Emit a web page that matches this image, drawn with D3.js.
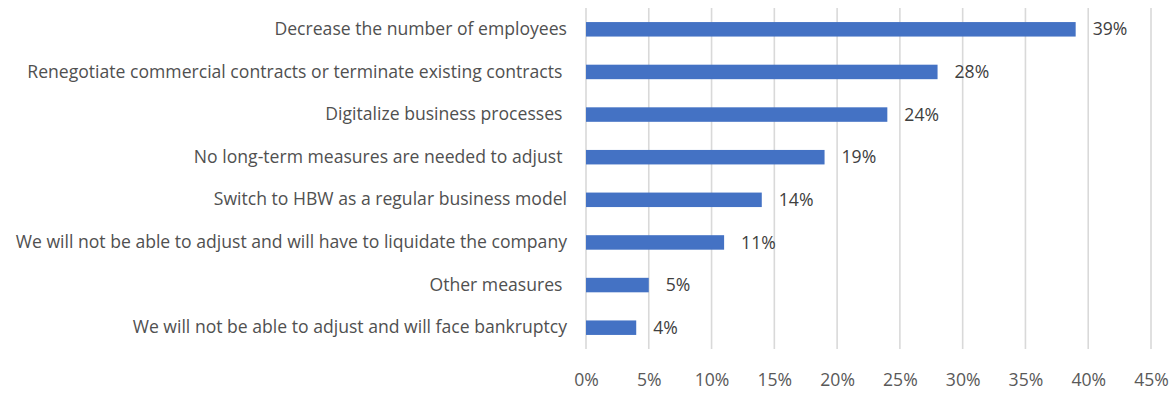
<!DOCTYPE html>
<html>
<head>
<meta charset="utf-8">
<script src="https://cdn.jsdelivr.net/npm/d3@7"></script>
<style>
  html, body { margin: 0; padding: 0; background: #fff; }
  svg text { font-family: "Open Sans", "Noto Sans", sans-serif; }
</style>
</head>
<body>
<svg id="chart" width="1173" height="396"></svg>
<script>
// Survey answers: how companies plan to adjust
const categories = [
  "Decrease the number of employees",
  "Renegotiate commercial contracts or terminate existing contracts ",
  "Digitalize business processes ",
  "No long-term measures are needed to adjust ",
  "Switch to HBW as a regular business model",
  "We will not be able to adjust and will have to liquidate the company",
  "Other measures ",
  "We will not be able to adjust and will face bankruptcy"
];
const values = [39, 28, 24, 19, 14, 11, 5, 4];
const tickValues = [0, 5, 10, 15, 20, 25, 30, 35, 40, 45];

const FONT = "17.6px";
const svg = d3.select("#chart");
const margin = { left: 586, right: 22, top: 8, bottom: 47 };
const W = 1173, H = 396;

const x = d3.scaleLinear().domain([0, 45]).range([margin.left, W - margin.right]);
const y = d3.scaleBand().domain(categories).range([margin.top, H - margin.bottom])
  .paddingInner(0.66).paddingOuter(0.33);

// vertical gridlines
svg.append("g").selectAll("line").data(tickValues).join("line")
  .attr("x1", d => x(d)).attr("x2", d => x(d))
  .attr("y1", margin.top).attr("y2", H - margin.bottom)
  .attr("stroke", "#d9d9d9").attr("stroke-width", 1.6);

// x axis tick labels
const xAxis = d3.axisBottom(x).tickValues(tickValues).tickFormat(d => d + "%").tickSize(0).tickPadding(0);
const gx = svg.append("g").attr("transform", `translate(0,${H - margin.bottom})`).call(xAxis);
gx.select(".domain").remove();
gx.selectAll("text").attr("dy", null).attr("y", 37)
  .attr("fill", "#595959").style("font-size", FONT);

// category labels
const yAxis = d3.axisLeft(y).tickSize(0).tickPadding(19);
const gy = svg.append("g").attr("transform", `translate(${margin.left},0)`).call(yAxis);
gy.select(".domain").remove();
gy.selectAll("text").attr("fill", "#505050").style("font-size", FONT)
  .style("white-space", "pre").attr("xml:space", "preserve");

// bars
svg.append("g").selectAll("rect").data(values).join("rect")
  .attr("x", x(0))
  .attr("y", (d, i) => y(categories[i]))
  .attr("width", d => x(d) - x(0))
  .attr("height", y.bandwidth())
  .attr("fill", "#4472c4");

// value labels
svg.append("g").selectAll("text").data(values).join("text")
  .attr("x", d => x(d) + 17)
  .attr("y", (d, i) => y(categories[i]) + y.bandwidth() / 2)
  .attr("dy", "0.35em")
  .attr("fill", "#404040").style("font-size", FONT)
  .text(d => d + "%");
</script>
</body>
</html>
